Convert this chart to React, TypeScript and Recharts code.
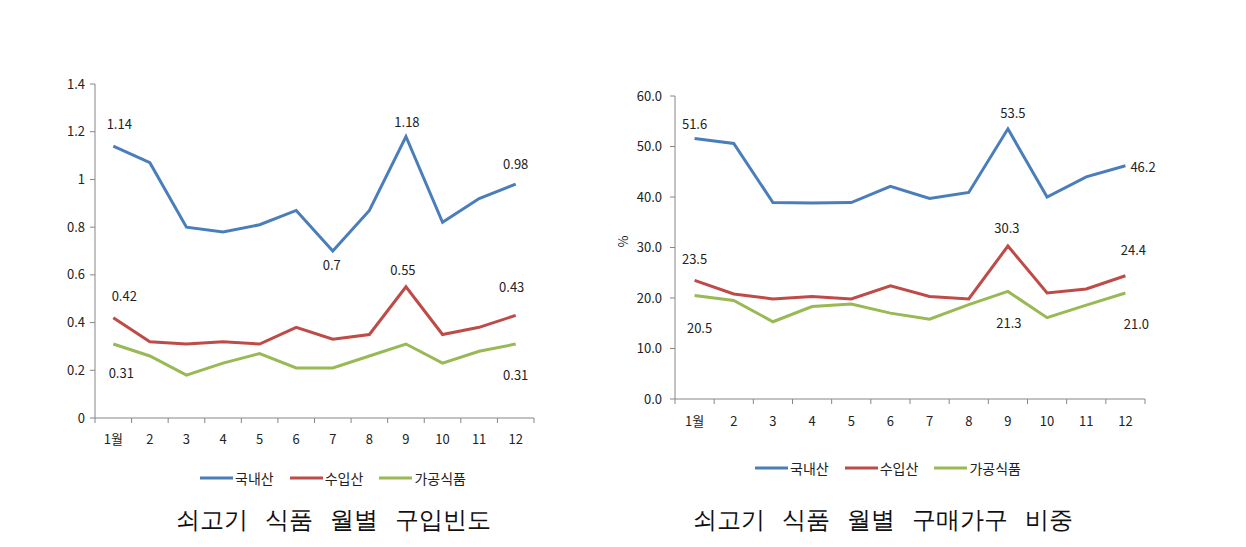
import React from 'react';
import { LineChart, Line, XAxis, YAxis, Legend, LabelList } from 'recharts';

const months = ['1월', '2', '3', '4', '5', '6', '7', '8', '9', '10', '11', '12'];
const seriesNames = ['국내산', '수입산', '가공식품'];

// 구입빈도
const freqDomestic = [1.14, 1.07, 0.8, 0.78, 0.81, 0.87, 0.7, 0.87, 1.18, 0.82, 0.92, 0.98];
const freqImported = [0.42, 0.32, 0.31, 0.32, 0.31, 0.38, 0.33, 0.35, 0.55, 0.35, 0.38, 0.43];
const freqProcessed = [0.31, 0.26, 0.18, 0.23, 0.27, 0.21, 0.21, 0.26, 0.31, 0.23, 0.28, 0.31];
const freqTicks = [0, 0.2, 0.4, 0.6, 0.8, 1, 1.2, 1.4];

// 구매가구 비중 (%)
const shareDomestic = [51.6, 50.6, 38.9, 38.8, 38.9, 42.1, 39.7, 40.9, 53.5, 40.0, 44.0, 46.2];
const shareImported = [23.5, 20.8, 19.8, 20.3, 19.8, 22.4, 20.3, 19.8, 30.3, 21.0, 21.8, 24.4];
const shareProcessed = [20.5, 19.5, 15.3, 18.3, 18.8, 17.0, 15.8, 18.7, 21.3, 16.1, 18.6, 21.0];
const shareTicks = [0, 10, 20, 30, 40, 50, 60];

const titles = ['쇠고기 식품 월별 구입빈도', '쇠고기 식품 월별 구매가구 비중'];

const COLORS = ['#4A7EBB', '#BE4B48', '#98B954'];
const AXIS = '#868686';
const TEXT = '#222';
const FONT = '"Noto Sans CJK KR", "Noto Sans", sans-serif';

const freqData = months.map((m, i) => ({
  month: m,
  domestic: freqDomestic[i],
  imported: freqImported[i],
  processed: freqProcessed[i],
}));

const shareData = months.map((m, i) => ({
  month: m,
  domestic: shareDomestic[i],
  imported: shareImported[i],
  processed: shareProcessed[i],
}));

// which points carry a value label, and where it sits relative to the point
type Spot = [number, number, ('start' | 'middle' | 'end')?];
const freqSpots: Record<string, Record<number, Spot>> = {
  domestic: { 0: [6, -23], 6: [-1, 13], 8: [1, -15], 11: [0, -21] },
  imported: { 0: [11, -22], 8: [-3, -17], 11: [-4, -29] },
  processed: { 0: [8, 28], 11: [0, 30] },
};
const shareSpots: Record<string, Record<number, Spot>> = {
  domestic: { 0: [0, -15], 8: [5, -16], 11: [5, 1, 'start'] },
  imported: { 0: [0, -22], 8: [-1, -18], 11: [8, -26] },
  processed: { 0: [5, 32], 8: [1, 31], 11: [11, 31] },
};

const makeLabel = (spots: Record<number, Spot>, fmt: (v: number) => string) => (p: any) => {
  const s = spots[p.index];
  if (!s) return null;
  const x = p.viewBox?.x ?? p.x;
  const y = p.viewBox?.y ?? p.y;
  return (
    <text
      x={x + s[0]}
      y={y + s[1]}
      textAnchor={s[2] ?? 'middle'}
      dominantBaseline="central"
      fontSize={13}
      fontFamily={FONT}
      fill={TEXT}
    >
      {fmt(Number(p.value))}
    </text>
  );
};

// Excel style: tick marks sit between categories, label in the middle
const MonthTick = (props: any) => {
  const { x, y, payload, index, band, labelDy } = props;
  return (
    <g>
      <line x1={x - band / 2} x2={x - band / 2} y1={y} y2={y + 5} stroke={AXIS} />
      {index === months.length - 1 && (
        <line x1={x + band / 2} x2={x + band / 2} y1={y} y2={y + 5} stroke={AXIS} />
      )}
      <text
        x={x}
        y={y + labelDy}
        textAnchor="middle"
        dominantBaseline="central"
        fontSize={13}
        fontFamily={FONT}
        fill={TEXT}
      >
        {payload.value}
      </text>
    </g>
  );
};

const LegendContent = () => (
  <div
    style={{
      display: 'flex',
      justifyContent: 'center',
      alignItems: 'center',
      gap: 16,
      height: 20,
      fontFamily: FONT,
      fontSize: 14,
      color: TEXT,
    }}
  >
    {seriesNames.map((n, i) => (
      <div key={n} style={{ display: 'flex', alignItems: 'center', gap: 2 }}>
        <svg width={33} height={6}>
          <line x1={0} x2={33} y1={3} y2={3} stroke={COLORS[i]} strokeWidth={3} />
        </svg>
        <span>{n}</span>
      </div>
    ))}
  </div>
);

const keys = ['domestic', 'imported', 'processed'];

const LEFT_BAND = 439 / 12;
const RIGHT_BAND = 470 / 12;

export default function App() {
  return (
    <div style={{ position: 'absolute', left: 0, top: 0, width: 1246, height: 547, background: '#fff' }}>
      <div style={{ position: 'absolute', left: 0, top: 0 }}>
        <LineChart width={560} height={499} data={freqData} margin={{ top: 84, right: 26, bottom: 5, left: 45 }}>
          <XAxis
            dataKey="month"
            height={56}
            stroke={AXIS}
            tickLine={false}
            tickSize={0}
            tickMargin={0}
            interval={0}
            padding={{ left: LEFT_BAND / 2, right: LEFT_BAND / 2 }}
            tick={<MonthTick band={LEFT_BAND} labelDy={20} />}
          />
          <YAxis
            width={50}
            domain={[0, 1.4]}
            ticks={freqTicks}
            interval={0}
            stroke={AXIS}
            tickSize={5}
            tickMargin={5}
            tick={{ fontSize: 13, fontFamily: FONT, fill: TEXT }}
          />
          <Legend
            verticalAlign="bottom"
            height={20}
            content={<LegendContent />}
            wrapperStyle={{ top: 468, bottom: 'auto', left: 183, width: 300, height: 20 }}
          />
          {keys.map((k, i) => (
            <Line
              key={k}
              dataKey={k}
              name={seriesNames[i]}
              stroke={COLORS[i]}
              strokeWidth={3}
              dot={false}
              activeDot={false}
              isAnimationActive={false}
            >
              <LabelList dataKey={k} content={makeLabel(freqSpots[k], (v) => String(v))} />
            </Line>
          ))}
        </LineChart>
      </div>

      <div style={{ position: 'absolute', left: 590, top: 0 }}>
        <LineChart width={600} height={488} data={shareData} margin={{ top: 96, right: 45, bottom: 5, left: 25 }}>
          <XAxis
            dataKey="month"
            height={64}
            stroke={AXIS}
            tickLine={false}
            tickSize={0}
            tickMargin={0}
            interval={0}
            padding={{ left: RIGHT_BAND / 2, right: RIGHT_BAND / 2 }}
            tick={<MonthTick band={RIGHT_BAND} labelDy={21} />}
          />
          <YAxis
            width={60}
            domain={[0, 60]}
            ticks={shareTicks}
            interval={0}
            stroke={AXIS}
            tickSize={5}
            tickMargin={8}
            tickFormatter={(v: number) => v.toFixed(1)}
            tick={{ fontSize: 13, fontFamily: FONT, fill: TEXT }}
            label={{ value: '%', angle: -90, position: 'insideLeft', offset: 8, fontSize: 13, fontFamily: FONT, fill: TEXT }}
          />
          <Legend
            verticalAlign="bottom"
            height={20}
            content={<LegendContent />}
            wrapperStyle={{ top: 458, bottom: 'auto', left: 148, width: 300, height: 20 }}
          />
          {keys.map((k, i) => (
            <Line
              key={k}
              dataKey={k}
              name={seriesNames[i]}
              stroke={COLORS[i]}
              strokeWidth={3}
              dot={false}
              activeDot={false}
              isAnimationActive={false}
            >
              <LabelList dataKey={k} content={makeLabel(shareSpots[k], (v) => v.toFixed(1))} />
            </Line>
          ))}
        </LineChart>
      </div>

      {titles.map((t, i) => (
        <div
          key={t}
          style={{
            position: 'absolute',
            left: i === 0 ? 133 : 683,
            top: 505,
            width: 400,
            textAlign: 'center',
            lineHeight: '30px',
            fontSize: 24,
            wordSpacing: 11,
            fontFamily: 'serif',
            color: '#111',
          }}
        >
          {t}
        </div>
      ))}
    </div>
  );
}
